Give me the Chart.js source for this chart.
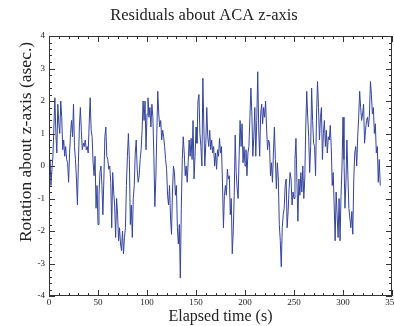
<!DOCTYPE html>
<html>
<head>
<meta charset="utf-8">
<script src="https://cdn.jsdelivr.net/npm/chart.js@4.4.1/dist/chart.umd.min.js"></script>
<style>
  html, body { margin: 0; padding: 0; background: #fff; }
  #wrap { width: 394px; height: 326px; }
</style>
</head>
<body>
<div id="wrap"><canvas id="chart" width="394" height="326"></canvas></div>
<script>
// residuals, one sample per second starting at t = 0
const residuals = [
  -0.3, 0.2, -0.6, -0.1, 0.3, 1.2, 2.1, 1.0, 0.4, 1.9,
  1.3, 1.0, 2.0, 1.5, 0.5, 0.8, 0.3, 0.6, 0.2, 0.1,
  -0.5, 0.4, 1.0, 1.4, 0.9, 1.9, 0.6, 0.2, -0.4, -1.2,
  0.1, 1.2, 1.8, 1.1, 0.5, 0.7, 0.6, 0.8, 0.5, 0.6,
  0.4, 1.3, 2.1, 1.1, 0.9, 0.1, -0.3, 0.3, -1.3, -0.6,
  -1.8, -0.9, -0.2, 0.0, -0.6, -1.5, -0.4, 0.9, 1.2, 0.3,
  0.2, -0.1, 0.0, -0.5, -1.9, -0.2, -0.8, -1.2, -2.2, -1.0,
  -1.5, -2.3, -1.9, -2.4, -2.6, -2.0, -2.7, -2.2, -1.9, -0.6,
  0.3, 1.0, 0.2, -1.8, -1.2, -2.2, -1.0, -0.6, 0.4, 0.8,
  -0.1, -0.5, -0.3, 0.2, 0.5, 1.1, 2.0, 1.4, 2.0, 0.5,
  1.6, 2.1, 1.5, 1.8, 1.2, 1.9, 1.5, 0.3, -1.25, -0.4,
  1.0, 2.3, 1.6, 1.2, 1.4, 0.8, 1.1, 0.9, 0.6, 0.2,
  -0.1, -0.9, -1.2, -0.6, -1.6, -2.1, -0.8, 0.0, -0.2, -0.9,
  -0.6, -1.9, -2.4, -1.8, -3.45, -1.3, 0.2, 0.9, 0.4, -0.3,
  0.0, -0.5, 0.1, 0.8, 0.3, 0.85, 0.2, 1.4, -0.4, 0.3,
  1.2, 0.7, 2.0, 2.2, 1.0, 0.6, 0.0, 2.7, 1.2, 0.0,
  0.7, 1.8, 0.9, 0.6, 1.1, 0.5, 0.8, 0.4, 0.6, 0.0,
  0.4, -0.1, 0.5, 0.3, 0.85, 0.4, 0.6, -0.5, -1.9, -0.9,
  -0.6, -0.9, -0.1, -0.4, -0.3, -1.5, -1.0, -2.7, -2.0, -0.9,
  0.95, -0.2, -0.7, -1.0, 0.3, 1.4, 0.6, 1.3, 0.1, 0.6,
  0.0, 0.5, -0.3, 0.4, 0.6, 1.5, 2.4, 1.6, 0.3, 0.9,
  1.8, 0.3, 1.4, 2.9, 1.1, 0.3, 1.6, 1.9, 1.3, 1.8,
  1.5, 2.0, 1.2, 0.5, 0.8, 0.7, -0.3, 0.1, -0.5, 0.4,
  1.2, 0.2, -0.7, 0.1, -0.4, -1.8, -2.3, -3.1, -1.9, -1.5,
  -1.3, -0.6, -0.4, -1.9, -1.4, -0.7, -0.2, -0.4, -1.2, -0.8,
  -1.0, 0.2, 0.85, -0.5, -1.7, -0.4, -0.9, -0.2, -0.8, 0.0,
  -1.0, -0.4, 1.2, 2.3, 1.5, 0.9, -0.2, 0.6, 2.4, 1.4,
  0.7, 0.6, -0.3, 1.6, 2.6, 1.8, 0.8, 1.5, 1.8, 0.2,
  1.0, 1.4, 0.6, 1.1, 0.4, 0.9, 0.8, 1.25, 0.6, -0.6,
  -0.2, -1.2, -2.3, -0.8, -1.5, -2.2, -1.0, -2.3, -0.9, 0.0,
  1.5, 0.2, -1.3, -0.5, 0.8, -0.3, -1.3, -1.6, -1.9, -1.4,
  -2.1, -0.4, 0.4, 0.6, 0.0, 0.9, 1.5, 2.3, 1.8, 1.4,
  1.6, 1.9, 0.7, 1.1, 1.4, 1.5, 1.2, 1.6, 2.6, 2.2,
  1.6, 1.8, 1.0, 1.3, 0.4, 0.6, -0.5, 0.2, -0.6
];
const elapsed = residuals.map((_, i) => i); // seconds

const xTicks = [0, 50, 100, 150, 200, 250, 300, 350];
const yTicks = [-4, -3, -2, -1, 0, 1, 2, 3, 4];
const titleText = 'Residuals about ACA z-axis';
const xTitle = 'Elapsed time (s)';
const yTitle = 'Rotation about z-axis (asec.)';

const SERIF = '"Liberation Serif", "DejaVu Serif", serif';

// frame, inward ticks on all four sides, labels and titles
const gracePlot = {
  id: 'gracePlot',
  afterDraw(chart) {
    const { ctx, chartArea: a, scales } = chart;
    const xs = scales.x, ys = scales.y;
    ctx.save();
    ctx.strokeStyle = '#333';
    ctx.lineWidth = 1;
    ctx.strokeRect(a.left + 0.5, a.top + 0.5, a.right - a.left - 1, a.bottom - a.top - 1);

    ctx.beginPath();
    for (let v = 0; v <= 350; v += 10) {
      const px = Math.round(xs.getPixelForValue(v)) + 0.5;
      const len = v % 50 === 0 ? 6 : 3;
      ctx.moveTo(px, a.bottom); ctx.lineTo(px, a.bottom - len);
      ctx.moveTo(px, a.top); ctx.lineTo(px, a.top + len);
    }
    for (let k = -20; k <= 20; k++) {
      const py = Math.round(ys.getPixelForValue(k / 5)) + 0.5;
      const len = k % 5 === 0 ? 6 : 3;
      ctx.moveTo(a.left, py); ctx.lineTo(a.left + len, py);
      ctx.moveTo(a.right, py); ctx.lineTo(a.right - len, py);
    }
    ctx.stroke();

    ctx.fillStyle = '#222';
    ctx.font = '9px ' + SERIF;
    ctx.textAlign = 'center';
    ctx.textBaseline = 'middle';
    xTicks.forEach(v => ctx.fillText(String(v), xs.getPixelForValue(v), a.bottom + 7));
    ctx.textAlign = 'right';
    yTicks.forEach(v => ctx.fillText(String(v), a.left - 4, ys.getPixelForValue(v)));

    ctx.textAlign = 'center';
    ctx.textBaseline = 'alphabetic';
    ctx.font = '16.5px ' + SERIF;
    ctx.fillText(titleText, 204, 20);
    ctx.font = '16px ' + SERIF;
    ctx.fillText(xTitle, (a.left + a.right) / 2, 321);

    ctx.font = '17.5px ' + SERIF;
    ctx.translate(31, 142);
    ctx.rotate(-Math.PI / 2);
    ctx.fillText(yTitle, 0, 0);
    ctx.restore();
  }
};

new Chart(document.getElementById('chart'), {
  type: 'line',
  data: {
    datasets: [{
      data: elapsed.map((t, i) => ({ x: t, y: residuals[i] })),
      borderColor: '#34449e',
      borderWidth: 1,
      pointRadius: 0,
      tension: 0,
      fill: false
    }]
  },
  options: {
    responsive: false,
    animation: false,
    layout: { padding: { left: 49, right: 2, top: 36, bottom: 30 } },
    scales: {
      x: { type: 'linear', min: 0, max: 350, display: false },
      y: { type: 'linear', min: -4, max: 4, display: false }
    },
    plugins: {
      legend: { display: false },
      tooltip: { enabled: false }
    }
  },
  plugins: [gracePlot]
});
</script>
</body>
</html>
